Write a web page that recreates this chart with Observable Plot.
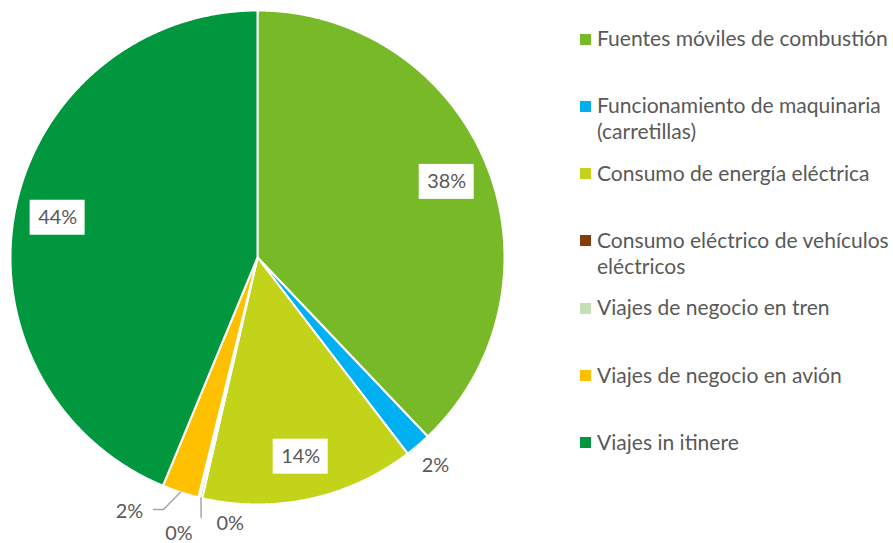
<!DOCTYPE html>
<html>
<head>
<meta charset="utf-8">
<script src="https://cdn.jsdelivr.net/npm/d3@7"></script>
<script src="https://cdn.jsdelivr.net/npm/@observablehq/plot@0.6"></script>
<style>
  html, body { margin: 0; padding: 0; background: #fff; overflow: hidden; }
  #wrap { position: relative; width: 893px; height: 543px; }
  #chart { position: absolute; left: 0; top: 0; }
  .lg-sw { position: absolute; width: 11px; height: 11px; }
  .lg-tx { position: absolute; color: #595959; line-height: 26px; width: 300px; font-family: Lato, "Open Sans", sans-serif; }
</style>
</head>
<body>
<div id="wrap"><div id="chart"></div></div>
<script>
// ---- Data ----
const categories = [
  "Fuentes móviles de combustión",
  "Funcionamiento de maquinaria (carretillas)",
  "Consumo de energía eléctrica",
  "Consumo eléctrico de vehículos eléctricos",
  "Viajes de negocio en tren",
  "Viajes de negocio en avión",
  "Viajes in itinere"
];
const shares = [37.9, 1.7, 14.0, 0.15, 0.1, 2.4, 43.75];
const pctLabels = ["38%", "2%", "14%", "0%", "0%", "2%", "44%"];
const colors = ["#78B928", "#00B0F0", "#C3D31A", "#843C0C", "#C5E0B4", "#FFC000", "#00973F"];

// ---- Layout (unit-circle coordinates, radius = 1) ----
const FONT = "Lato, 'Open Sans', sans-serif";
const insideR = 0.825;
const outsideLayout = {
  1: {x: 0.7206, y: -0.8421, leader: null},
  3: {x: -0.110, y: -1.079, leader: [[-0.228, -1.0526]]},
  4: {x: -0.318, y: -1.118, leader: null},
  5: {x: -0.518, y: -1.030, leader: [[-0.3806, -1.0202], [-0.4211, -1.0202]]}
};

function measure(text, size) {
  const c = document.createElement("canvas").getContext("2d");
  c.font = `${size}px ${FONT}`;
  return c.measureText(text).width;
}
const legendFs = 20 * 291 / measure("Fuentes móviles de combustión", 20);
const labelFs = 20 * 39 / measure("38%", 20);

const arcs = d3.pie().sort(null).value(d => d.v)(categories.map((c, i) => ({c, v: shares[i], i})));

// slice polygons
const poly = [];
arcs.forEach(a => {
  poly.push({name: a.data.c, x: 0, y: 0});
  const n = Math.max(2, Math.ceil((a.endAngle - a.startAngle) / (Math.PI / 720)));
  for (let k = 0; k <= n; k++) {
    const t = a.startAngle + (a.endAngle - a.startAngle) * k / n;
    poly.push({name: a.data.c, x: Math.sin(t), y: Math.cos(t)});
  }
});

// labels
const inside = [], outside = [], leaders = [];
arcs.forEach((a, i) => {
  const mid = (a.startAngle + a.endAngle) / 2;
  const lay = outsideLayout[i];
  if (!lay) {
    inside.push({x: insideR * Math.sin(mid), y: insideR * Math.cos(mid), t: pctLabels[i]});
  } else {
    outside.push({x: lay.x, y: lay.y, t: pctLabels[i]});
    if (lay.leader) {
      leaders.push({g: i, x: Math.sin(mid), y: Math.cos(mid)});
      lay.leader.forEach(p => leaders.push({g: i, x: p[0], y: p[1]}));
    }
  }
});
const bw = 27.5 / 247, bh = 17.5 / 247;

const plot = Plot.plot({
  width: 893, height: 543, margin: 0,
  x: {domain: [-1, 1], range: [10, 504], axis: null},
  y: {domain: [-1, 1], range: [504, 10], axis: null},
  color: {type: "ordinal", domain: categories, range: colors},
  style: {background: "#fff", fontFamily: FONT},
  marks: [
    Plot.line(poly, {x: "x", y: "y", z: "name", fill: "name", stroke: "#fff", strokeWidth: 2, curve: "linear-closed", strokeLinejoin: "round"}),
    Plot.line(leaders, {x: "x", y: "y", z: "g", stroke: "#A6A6A6", strokeWidth: 1.5}),
    Plot.rect(inside, {x1: d => d.x - bw, x2: d => d.x + bw, y1: d => d.y - bh, y2: d => d.y + bh, fill: "#fff"}),
    Plot.text(inside, {x: "x", y: "y", text: "t", fill: "#595959", fontSize: labelFs}),
    Plot.text(outside, {x: "x", y: "y", text: "t", fill: "#595959", fontSize: labelFs})
  ]
});
document.getElementById("chart").appendChild(plot);

// legend
const wrap = document.getElementById("wrap");
categories.forEach((c, i) => {
  const cy = 38 + i * 67.33;
  const sw = document.createElement("div");
  sw.className = "lg-sw";
  sw.style.left = "580px"; sw.style.top = (cy - 4.5) + "px"; sw.style.background = colors[i];
  const tx = document.createElement("div");
  tx.className = "lg-tx";
  tx.style.left = "597px"; tx.style.top = (cy - 13) + "px"; tx.style.fontSize = legendFs + "px";
  tx.textContent = c;
  wrap.appendChild(sw); wrap.appendChild(tx);
});
</script>
</body>
</html>
